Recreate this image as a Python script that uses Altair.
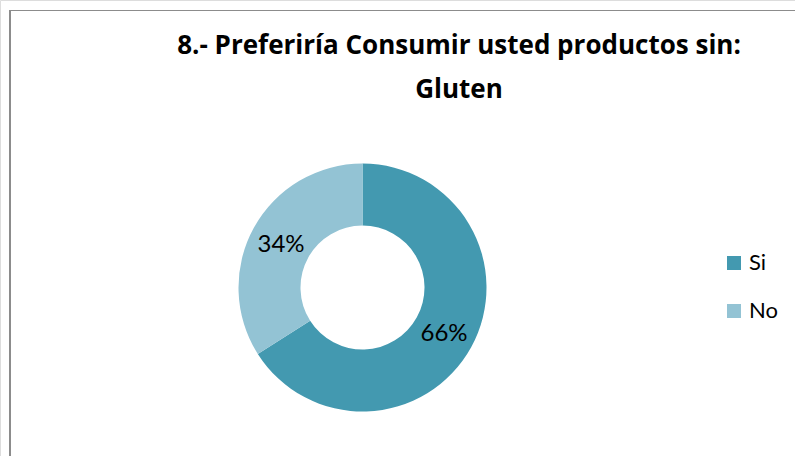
import altair as alt
import pandas as pd

categories = ["Si", "No"]
values = [66, 34]
labels = ["66%", "34%"]
colors = ["#4399b0", "#93c3d4"]
title_lines = ["8.- Preferiría Consumir usted productos sin:", "Gluten"]

FONT = "Lato"
TFONT = "Open Sans"
CX, CY = 362.5, 287.5

df = pd.DataFrame({"cat": categories, "val": values, "label": labels, "idx": [0, 1]})

color_scale = alt.Scale(domain=categories, range=colors)

arc = alt.Chart(df).mark_arc(radius=124, innerRadius=62).encode(
    x=alt.value(CX),
    y=alt.value(CY),
    theta=alt.Theta("val:Q", stack=True),
    order=alt.Order("idx:Q"),
    color=alt.Color(
        "cat:N",
        scale=color_scale,
        legend=alt.Legend(
            title=None,
            orient="none",
            legendX=723,
            legendY=252,
            symbolType="square",
            symbolSize=196,
            symbolStrokeWidth=0,
            labelFont=FONT,
            labelFontSize=22,
            labelColor="#000000",
            labelOffset=4,
            rowPadding=26,
        ),
    ),
)

text = alt.Chart(df).mark_text(radius=93, font=FONT, fontSize=24, color="#000000", dy=2).encode(
    x=alt.value(CX),
    y=alt.value(CY),
    theta=alt.Theta("val:Q", stack=True),
    order=alt.Order("idx:Q"),
    text="label:N",
)

tdf = pd.DataFrame({"t": title_lines, "y": [54, 98]})
title = alt.Chart(tdf).mark_text(
    font=TFONT, fontSize=26, fontWeight="bold", color="#000000", baseline="alphabetic", align="center"
).encode(
    x=alt.value(459),
    y=alt.Y("y:Q", scale=None),
    text="t:N",
)

frame = alt.Chart(pd.DataFrame({"a": [0]})).mark_rule(color="#8c8c8c", strokeWidth=2).encode(
    x=alt.value(10), x2=alt.value(10), y=alt.value(10), y2=alt.value(456)
)
frame_top = alt.Chart(pd.DataFrame({"a": [0]})).mark_rule(color="#8c8c8c", strokeWidth=1).encode(
    x=alt.value(10), x2=alt.value(795), y=alt.value(10.5), y2=alt.value(10.5)
)

chart = alt.layer(frame, frame_top, arc, text, title).properties(
    width=795, height=456, autosize=alt.AutoSizeParams(type="none"), padding=0
).configure_view(strokeWidth=0).configure(background="white")

chart.save("out.html", embed_options={"renderer": "svg", "actions": False})
